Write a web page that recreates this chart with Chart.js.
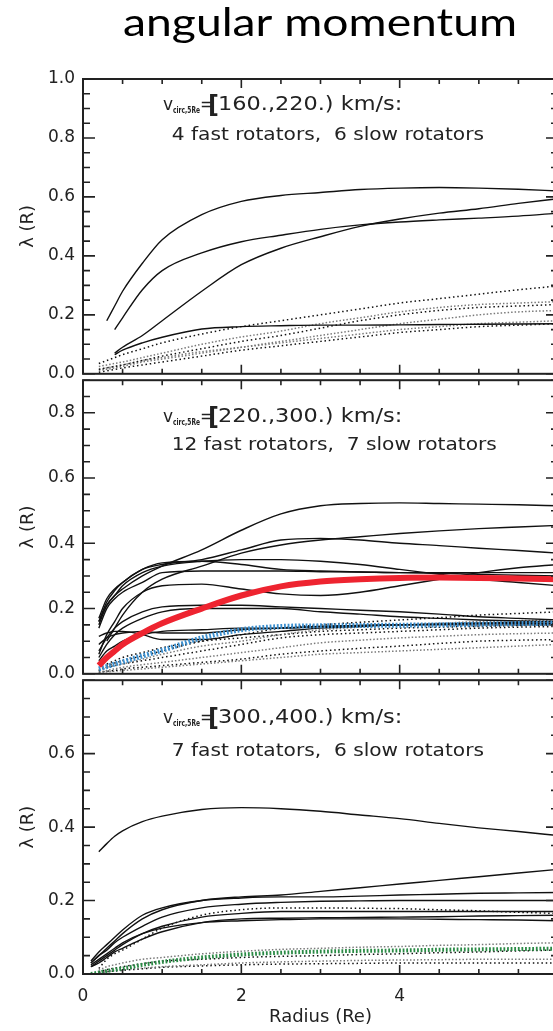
<!DOCTYPE html>
<html>
<head>
<meta charset="utf-8">
<title>angular momentum</title>
<script src="https://cdn.jsdelivr.net/npm/chart.js@4.4.1/dist/chart.umd.min.js"></script>
<style>
  html, body { margin: 0; padding: 0; background: #fff; width: 553px; height: 1031px; overflow: hidden; }
  canvas { position: absolute; left: 0; }
</style>
</head>
<body>
<canvas id="panel1" width="600" height="392" style="top:0px"></canvas>
<canvas id="panel2" width="600" height="330" style="top:362px"></canvas>
<canvas id="panel3" width="600" height="369" style="top:662px"></canvas>
<script>
"use strict";

// radius grid (Re) shared by every lambda(R) profile, null = no data there
var radius = [0.1, 0.2, 0.3, 0.4, 0.5, 0.75, 1, 1.5, 2, 2.5, 3, 3.5, 4, 4.5, 5, 5.5, 6];
var xTicks = [0, 2, 4];
var yMax = [1.0, 0.9, 0.8];
var yLabelMax = [1.0, 0.8, 0.6];

// panel 1 : vcirc [160,220) km/s
var p1Fast = [
    [null, null, 0.18, 0.23, 0.28, 0.375, 0.455, 0.54, 0.585, 0.605, 0.615, 0.625, 0.63, 0.632, 0.63, 0.626, 0.62],
    [null, null, null, 0.15, 0.19, 0.285, 0.35, 0.41, 0.448, 0.47, 0.49, 0.505, 0.515, 0.522, 0.528, 0.535, 0.545],
    [null, null, null, 0.07, 0.09, 0.13, 0.18, 0.28, 0.37, 0.426, 0.465, 0.5, 0.525, 0.545, 0.56, 0.578, 0.594],
    [null, null, null, 0.065, 0.08, 0.105, 0.124, 0.152, 0.16, 0.163, 0.165, 0.165, 0.166, 0.167, 0.168, 0.169, 0.17]
];
var p1Slow = [
    [null, 0.035, 0.045, 0.055, 0.065, 0.085, 0.105, 0.135, 0.16, 0.18, 0.2, 0.22, 0.24, 0.255, 0.27, 0.285, 0.298],
    [null, 0.025, 0.03, 0.035, 0.04, 0.055, 0.07, 0.1, 0.125, 0.145, 0.17, 0.19, 0.21, 0.225, 0.235, 0.24, 0.245],
    [null, 0.015, 0.02, 0.025, 0.03, 0.045, 0.06, 0.085, 0.11, 0.13, 0.155, 0.18, 0.2, 0.215, 0.225, 0.23, 0.235],
    [null, 0.012, 0.015, 0.02, 0.025, 0.04, 0.05, 0.07, 0.09, 0.11, 0.13, 0.15, 0.17, 0.185, 0.2, 0.21, 0.215],
    [null, 0.005, 0.01, 0.015, 0.02, 0.03, 0.04, 0.06, 0.08, 0.095, 0.11, 0.125, 0.14, 0.15, 0.16, 0.165, 0.17],
    [null, 0.015, 0.02, 0.025, 0.03, 0.045, 0.055, 0.075, 0.09, 0.105, 0.12, 0.135, 0.15, 0.16, 0.17, 0.175, 0.18]
];

// panel 2 : vcirc [220,300) km/s
var p2Mean = [null, 0.025, 0.05, 0.07, 0.09, 0.125, 0.155, 0.2, 0.24, 0.268, 0.283, 0.29, 0.294, 0.295, 0.294, 0.292, 0.29];
var p2SlowMean = [null, 0.015, 0.022, 0.03, 0.037, 0.055, 0.072, 0.11, 0.135, 0.145, 0.147, 0.148, 0.149, 0.15, 0.152, 0.154, 0.155];
var p2Fast = [
    [null, 0.16, 0.21, 0.24, 0.26, 0.3, 0.33, 0.38, 0.44, 0.49, 0.515, 0.522, 0.524, 0.522, 0.52, 0.518, 0.515],
    [null, null, 0.1, 0.14, 0.18, 0.25, 0.29, 0.33, 0.37, 0.395, 0.41, 0.42, 0.43, 0.438, 0.445, 0.45, 0.455],
    [null, 0.17, 0.23, 0.26, 0.28, 0.32, 0.335, 0.35, 0.38, 0.41, 0.415, 0.41, 0.4, 0.393, 0.385, 0.378, 0.37],
    [null, 0.15, 0.21, 0.24, 0.27, 0.31, 0.33, 0.345, 0.35, 0.35, 0.345, 0.335, 0.32, 0.305, 0.29, 0.28, 0.27],
    [null, 0.16, 0.22, 0.255, 0.28, 0.32, 0.34, 0.345, 0.335, 0.32, 0.315, 0.312, 0.31, 0.308, 0.305, 0.302, 0.3],
    [null, 0.14, 0.2, 0.23, 0.25, 0.28, 0.31, 0.315, 0.315, 0.315, 0.313, 0.312, 0.31, 0.31, 0.31, 0.31, 0.31],
    [null, 0.06, 0.12, 0.16, 0.2, 0.25, 0.27, 0.275, 0.26, 0.245, 0.24, 0.25, 0.27, 0.29, 0.31, 0.325, 0.335],
    [null, 0.07, 0.11, 0.14, 0.16, 0.19, 0.205, 0.21, 0.21, 0.205, 0.2, 0.195, 0.19, 0.183, 0.175, 0.17, 0.165],
    [null, 0.05, 0.09, 0.12, 0.14, 0.17, 0.19, 0.2, 0.2, 0.2, 0.19, 0.183, 0.175, 0.17, 0.165, 0.162, 0.16],
    [null, 0.09, 0.11, 0.12, 0.125, 0.13, 0.125, 0.125, 0.135, 0.14, 0.145, 0.148, 0.15, 0.152, 0.155, 0.158, 0.16],
    [null, 0.115, 0.125, 0.13, 0.13, 0.12, 0.105, 0.105, 0.12, 0.13, 0.14, 0.145, 0.15, 0.15, 0.15, 0.15, 0.15],
    [null, 0.04, 0.07, 0.085, 0.1, 0.12, 0.13, 0.135, 0.14, 0.14, 0.145, 0.148, 0.15, 0.152, 0.155, 0.155, 0.155]
];
var p2Slow = [
    [null, 0.01, 0.025, 0.033, 0.04, 0.055, 0.07, 0.1, 0.12, 0.14, 0.15, 0.158, 0.165, 0.172, 0.18, 0.185, 0.19],
    [null, 0.01, 0.02, 0.025, 0.03, 0.045, 0.06, 0.085, 0.1, 0.12, 0.135, 0.143, 0.15, 0.155, 0.16, 0.163, 0.165],
    [null, 0.01, 0.02, 0.025, 0.03, 0.04, 0.05, 0.07, 0.09, 0.11, 0.12, 0.125, 0.13, 0.135, 0.14, 0.143, 0.145],
    [null, 0.005, 0.01, 0.015, 0.02, 0.028, 0.035, 0.05, 0.065, 0.08, 0.095, 0.103, 0.11, 0.115, 0.12, 0.123, 0.125],
    [null, 0.005, 0.008, 0.01, 0.015, 0.02, 0.025, 0.035, 0.045, 0.06, 0.07, 0.078, 0.085, 0.093, 0.1, 0.103, 0.105],
    [null, 0.005, 0.006, 0.008, 0.01, 0.015, 0.02, 0.03, 0.04, 0.05, 0.06, 0.065, 0.07, 0.075, 0.08, 0.085, 0.09],
    [null, null, 0.03, 0.04, 0.05, 0.065, 0.08, 0.1, 0.11, 0.12, 0.13, 0.135, 0.14, 0.143, 0.145, 0.148, 0.15]
];

// panel 3 : vcirc [300,400) km/s
var p3SlowMean = [0.0, 0.004, 0.008, 0.012, 0.015, 0.025, 0.033, 0.045, 0.053, 0.058, 0.061, 0.063, 0.064, 0.066, 0.067, 0.068, 0.069];
var p3Fast = [
    [null, 0.333, 0.355, 0.375, 0.39, 0.415, 0.43, 0.448, 0.453, 0.45, 0.443, 0.433, 0.423, 0.41, 0.398, 0.388, 0.377],
    [0.03, 0.05, 0.07, 0.09, 0.11, 0.15, 0.175, 0.2, 0.21, 0.215, 0.225, 0.235, 0.245, 0.255, 0.265, 0.275, 0.285],
    [0.035, 0.06, 0.08, 0.1, 0.12, 0.16, 0.18, 0.2, 0.207, 0.21, 0.21, 0.212, 0.215, 0.217, 0.22, 0.221, 0.222],
    [0.03, 0.05, 0.065, 0.085, 0.1, 0.13, 0.155, 0.18, 0.19, 0.195, 0.198, 0.199, 0.2, 0.2, 0.2, 0.2, 0.2],
    [0.02, 0.035, 0.05, 0.065, 0.08, 0.11, 0.13, 0.155, 0.165, 0.17, 0.17, 0.17, 0.17, 0.17, 0.17, 0.17, 0.17],
    [0.02, 0.03, 0.045, 0.06, 0.07, 0.095, 0.115, 0.14, 0.15, 0.152, 0.153, 0.154, 0.155, 0.156, 0.158, 0.159, 0.16],
    [0.025, 0.04, 0.055, 0.07, 0.085, 0.11, 0.125, 0.14, 0.145, 0.148, 0.15, 0.15, 0.15, 0.149, 0.148, 0.147, 0.145]
];
var p3Slow = [
    [null, 0.015, 0.04, 0.055, 0.065, 0.095, 0.125, 0.16, 0.175, 0.18, 0.18, 0.179, 0.178, 0.175, 0.172, 0.168, 0.165],
    [null, 0.01, 0.02, 0.025, 0.03, 0.04, 0.045, 0.055, 0.062, 0.067, 0.07, 0.073, 0.075, 0.078, 0.08, 0.083, 0.085],
    [null, 0.005, 0.012, 0.016, 0.02, 0.028, 0.035, 0.04, 0.045, 0.048, 0.05, 0.053, 0.055, 0.058, 0.06, 0.063, 0.065],
    [null, 0.005, 0.008, 0.01, 0.012, 0.016, 0.02, 0.025, 0.03, 0.033, 0.035, 0.037, 0.038, 0.039, 0.04, 0.04, 0.04],
    [null, 0.003, 0.006, 0.008, 0.01, 0.014, 0.018, 0.022, 0.025, 0.027, 0.028, 0.029, 0.03, 0.03, 0.03, 0.03, 0.03]
];

var panelRange = ["160.,220.) km/s:", "220.,300.) km/s:", "300.,400.) km/s:"];
var panelCounts = ["4 fast rotators,  6 slow rotators", "12 fast rotators,  7 slow rotators", "7 fast rotators,  6 slow rotators"];

(function () {

    var INK = "#222";
    var FONT = '"DejaVu Sans", sans-serif';
    var STRETCH = 1.12;

    var line = function (vals, style) {
        var ds = {
            data: radius.map(function (r, i) { return { x: r, y: vals[i] }; }),
            pointRadius: 0,
            fill: false,
            spanGaps: false,
            cubicInterpolationMode: "monotone",
            borderColor: "#111",
            borderWidth: 1.4
        };
        return Object.assign(ds, style || {});
    };
    var dotted = function (vals, i) {
        var gray = i % 2 === 1;
        return line(vals, {
            borderColor: gray ? "#7a7a7a" : "#111",
            borderWidth: 1.5,
            borderDash: gray ? [1.5, 2] : [1.5, 2.8]
        });
    };

    var stretchText = function (ctx, str, x, y, font, sx) {
        ctx.font = font;
        ctx.save();
        ctx.translate(x, y);
        ctx.scale(sx, 1);
        ctx.fillText(str, 0, 0);
        ctx.restore();
    };
    var fitText = function (ctx, str, x0, x1, y, font) {
        ctx.font = font;
        stretchText(ctx, str, x0, y, font, (x1 - x0) / ctx.measureText(str).width);
    };

    // box + inward IDL style tick marks
    var framePlugin = {
        id: "frame",
        afterDraw: function (chart) {
            var ctx = chart.ctx, a = chart.chartArea;
            var xs = chart.scales.x, ys = chart.scales.y;
            ctx.save();
            ctx.strokeStyle = INK;
            ctx.lineWidth = 2;
            ctx.strokeRect(a.left, a.top, a.right - a.left, a.bottom - a.top);
            ctx.lineWidth = 1.6;
            ctx.beginPath();
            for (var k = 0; k <= 12; k++) {
                var px = xs.getPixelForValue(k * 0.5);
                var len = k % 4 === 0 ? 9 : 5;
                ctx.moveTo(px, a.bottom); ctx.lineTo(px, a.bottom - len);
                ctx.moveTo(px, a.top); ctx.lineTo(px, a.top + len);
            }
            for (var j = 0; j * 0.05 <= ys.max + 1e-6; j++) {
                var py = ys.getPixelForValue(j * 0.05);
                var l = j % 4 === 0 ? 12 : 7;
                ctx.moveTo(a.left, py); ctx.lineTo(a.left + l, py);
                ctx.moveTo(a.right, py); ctx.lineTo(a.right - l, py);
            }
            ctx.stroke();
            ctx.restore();
        }
    };

    // v_circ,5Re label and rotator counts
    var panelTextPlugin = {
        id: "panelText",
        afterDraw: function (chart, args, opts) {
            if (!opts.range) return;
            var ctx = chart.ctx, top = chart.chartArea.top;
            var b1 = top + opts.line1, b2 = top + opts.line2;
            ctx.save();
            ctx.fillStyle = INK;
            ctx.textAlign = "left";
            ctx.textBaseline = "alphabetic";
            stretchText(ctx, "v", 163, b1, "17px " + FONT, 1);
            fitText(ctx, "circ,5Re", 173, 200, b1 + 3.5, "bold 8px " + FONT);
            stretchText(ctx, "=", 200, b1, "17px " + FONT, 1);
            stretchText(ctx, "[", 208, b1 + 3, "bold 24px " + FONT, 1);
            stretchText(ctx, opts.range, 218, b1, "20px " + FONT, STRETCH);
            stretchText(ctx, opts.counts, 171.7, b2, "18px " + FONT, STRETCH);
            if (opts.title) {
                ctx.fillStyle = "#000";
                ctx.textAlign = "center";
                ctx.font = '39px Lato, "Open Sans", sans-serif';
                var w = ctx.measureText(opts.title).width;
                ctx.translate(320, 36);
                ctx.scale(394 / w, 1);
                ctx.fillText(opts.title, 0, 0);
            }
            ctx.restore();
        }
    };

    var makePanel = function (id, idx, datasets, text, padding, showX) {
        var ctx = document.getElementById(id).getContext("2d");
        return new Chart(ctx, {
            type: "line",
            data: { datasets: datasets },
            plugins: [framePlugin, panelTextPlugin],
            options: {
                responsive: false,
                animation: false,
                layout: { padding: padding },
                plugins: {
                    legend: { display: false },
                    tooltip: { enabled: false },
                    panelText: text
                },
                scales: {
                    x: {
                        type: "linear",
                        min: 0,
                        max: 6,
                        display: showX,
                        afterFit: function (scale) { if (showX) scale.height = 57; },
                        grid: { display: false, drawTicks: false },
                        border: { display: false },
                        ticks: {
                            stepSize: 2,
                            padding: 12.5,
                            color: INK,
                            font: { family: FONT, size: 17 },
                            callback: function (v) { return xTicks.indexOf(v) >= 0 ? String(v) : ""; }
                        },
                        title: {
                            display: true,
                            text: "Radius (Re)",
                            color: INK,
                            font: { family: FONT, size: 18 },
                            padding: { top: 0, bottom: 3 }
                        }
                    },
                    y: {
                        min: 0,
                        max: yMax[idx],
                        afterFit: function (scale) { scale.width = 83; },
                        grid: { display: false, drawTicks: false },
                        border: { display: false },
                        ticks: {
                            stepSize: 0.2,
                            includeBounds: false,
                            padding: 8,
                            color: INK,
                            font: { family: FONT, size: 17 },
                            callback: function (v) { return v > yLabelMax[idx] + 1e-6 ? "" : v.toFixed(1); }
                        },
                        title: {
                            display: true,
                            text: "\u03bb (R)",
                            color: INK,
                            font: { family: FONT, size: 18 },
                            padding: { top: 18, bottom: 0 }
                        }
                    }
                }
            }
        });
    };

    var buildCharts = function () {
        var d1 = p1Fast.map(function (v) { return line(v); })
            .concat(p1Slow.map(dotted));
        makePanel("panel1", 0, d1, {
            range: panelRange[0], counts: panelCounts[0], line1: 30.5, line2: 61,
            title: "angular momentum"
        }, { top: 79, bottom: 15, left: 0, right: 42 }, false);

        var d2 = [
            line(p2Mean, { borderColor: "#ee2430", borderWidth: 6 }),
            line(p2SlowMean, { borderColor: "#3b8fcf", borderWidth: 5, borderDash: [1.8, 1.8] })
        ].concat(p2Fast.map(function (v) { return line(v); }))
            .concat(p2Slow.map(dotted));
        makePanel("panel2", 1, d2, {
            range: panelRange[1], counts: panelCounts[1], line1: 41.3, line2: 69.7
        }, { top: 15, bottom: 15, left: 0, right: 42 }, false);

        var d3 = [
            line(p3SlowMean, { borderColor: "#2a8a45", borderWidth: 4, borderDash: [1.8, 1.8] })
        ].concat(p3Fast.map(function (v) { return line(v); }))
            .concat(p3Slow.map(dotted));
        makePanel("panel3", 2, d3, {
            range: panelRange[2], counts: panelCounts[2], line1: 42.5, line2: 75.5
        }, { top: 15, bottom: 0, left: 0, right: 42 }, true);
    };

    buildCharts();
})();
</script>
</body>
</html>
